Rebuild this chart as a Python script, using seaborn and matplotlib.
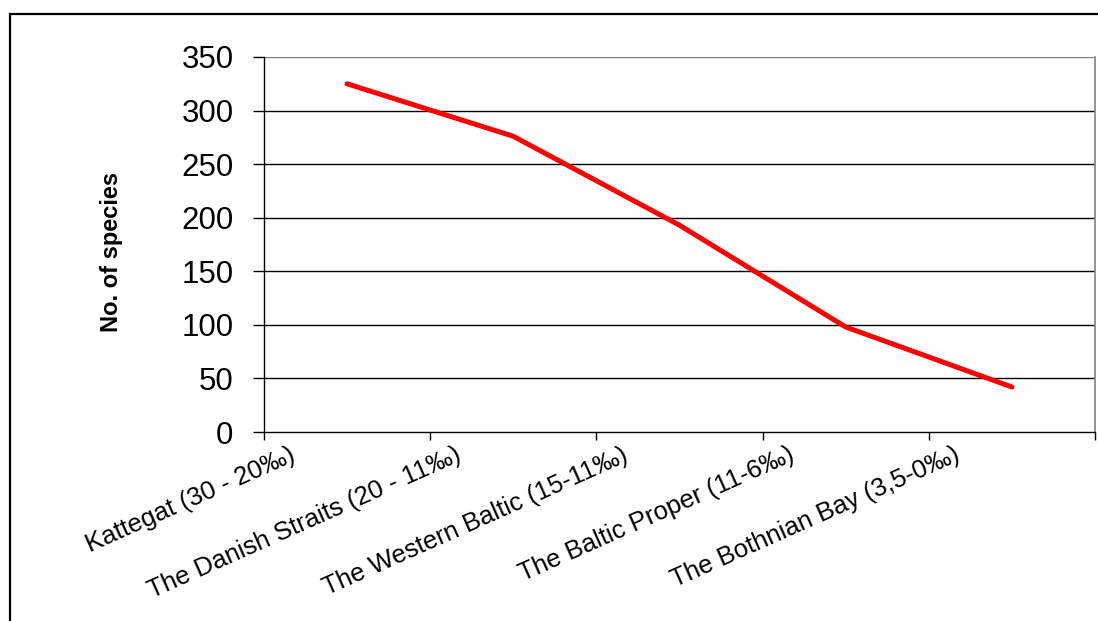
import matplotlib
matplotlib.use("Agg")
import matplotlib.pyplot as plt
import matplotlib.transforms as mtransforms
from matplotlib.patches import Rectangle
import seaborn as sns
import pandas as pd

# Species richness along the Baltic salinity gradient
regions = [
    "Kattegat (30 - 20‰)",
    "The Danish Straits (20 - 11‰)",
    "The Western Baltic (15-11‰)",
    "The Baltic Proper (11-6‰)",
    "The Bothnian Bay (3,5-0‰)",
]
species_counts = [325, 276, 193, 98, 42]
y_ticks = [0, 50, 100, 150, 200, 250, 300, 350]

df = pd.DataFrame({"region": regions, "species": species_counts})

sns.set_theme(style="white")
plt.rcParams["font.family"] = ["Liberation Sans", "DejaVu Sans"]
plt.rcParams["text.color"] = "black"
plt.rcParams["xtick.color"] = "black"
plt.rcParams["ytick.color"] = "black"
plt.rcParams["axes.labelcolor"] = "black"

fig = plt.figure(figsize=(10.98, 6.21), dpi=100)
ax = fig.add_axes([264 / 1098, 1 - 432 / 621, 831 / 1098, 375 / 621])

# horizontal gridlines behind the line
for v in y_ticks[1:]:
    ax.axhline(v, color="#000000" if v < 350 else "#808080", lw=1.0, zorder=1)

sns.lineplot(data=df, x="region", y="species", color="#ff0000", linewidth=3.6,
             sort=False, ax=ax, zorder=3)

ax.set_xlim(-0.5, len(regions) - 0.5)
ax.set_ylim(0, 350)
ax.set_yticks(y_ticks)
ax.set_yticklabels([str(v) for v in y_ticks], fontsize=22.5)
ax.tick_params(axis="y", direction="out", length=8, width=1, color="black",
               pad=14, left=True)

# category labels at the centres, boundary ticks between categories
ax.set_xticks(range(len(regions)))
ax.set_xticklabels(regions, fontsize=18.5, rotation=24, ha="right", va="top",
                   rotation_mode="anchor")
ax.tick_params(axis="x", which="major", length=0, pad=0)
ax.set_xticks([i - 0.5 for i in range(len(regions) + 1)], minor=True)
ax.tick_params(axis="x", which="minor", direction="out", length=6, width=1,
               color="black", bottom=True)
offset = mtransforms.ScaledTranslation(-0.58, -0.11, fig.dpi_scale_trans)
for lbl in ax.get_xticklabels():
    lbl.set_transform(lbl.get_transform() + offset)

ax.set_xlabel("")
ax.set_ylabel("No. of species", fontsize=17, fontweight="bold")
ax.yaxis.set_label_coords((123 - 264) / 831, 0.48)

for side in ["left", "bottom"]:
    ax.spines[side].set_color("black")
    ax.spines[side].set_linewidth(1.0)
ax.spines["top"].set_visible(False)
ax.spines["right"].set_color("#808080")
ax.spines["right"].set_linewidth(1.2)

# outer chart frame
fig.patches.append(Rectangle((10 / 1098, -0.1), 1.2, 1 - 14 / 621 + 0.1,
                             transform=fig.transFigure, fill=False,
                             edgecolor="black", linewidth=1.6, zorder=0))

fig.savefig("out.png", dpi=100)
